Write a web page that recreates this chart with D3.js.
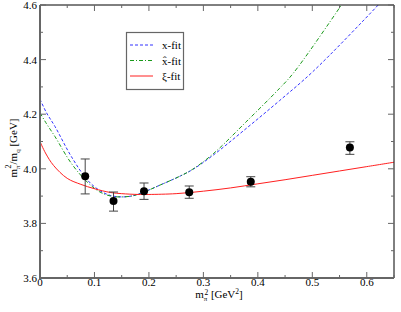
<!DOCTYPE html>
<html>
<head>
<meta charset="utf-8">
<script src="https://cdn.jsdelivr.net/npm/d3@7"></script>
<style>
  body { margin: 0; background: #fff; }
  text { font-family: "Liberation Serif", "DejaVu Serif", serif; }
</style>
</head>
<body>
<div id="container"></div>
<script>
// lattice points with errors
let mpi2   = [0.083, 0.135, 0.191, 0.274, 0.387, 0.569];
let ratio  = [3.973, 3.882, 3.918, 3.914, 3.953, 4.078];
let errLo  = [3.908, 3.845, 3.888, 3.892, 3.934, 4.053];
let errHi  = [4.036, 3.915, 3.948, 3.937, 3.971, 4.099];

// fit curves
let xfitX  = [0, 0.012, 0.0275, 0.0575, 0.0875, 0.11, 0.13, 0.15, 0.17, 0.19, 0.22, 0.257, 0.28, 0.318, 0.38, 0.44, 0.501, 0.621, 0.66];
let xfitY  = [4.255, 4.205, 4.155, 4.045, 3.958, 3.92, 3.902, 3.897, 3.901, 3.914, 3.94, 3.973, 3.997, 4.05, 4.15, 4.25, 4.356, 4.6, 4.685];
let xhatX  = [0, 0.012, 0.0275, 0.0575, 0.0875, 0.11, 0.13, 0.15, 0.17, 0.19, 0.22, 0.257, 0.28, 0.318, 0.38, 0.44, 0.465, 0.5535, 0.58];
let xhatY  = [4.205, 4.165, 4.118, 4.02, 3.95, 3.915, 3.9, 3.897, 3.901, 3.914, 3.94, 3.973, 3.998, 4.055, 4.175, 4.295, 4.35, 4.6, 4.68];
let xifitX = [0, 0.01, 0.025, 0.05, 0.075, 0.1, 0.13, 0.15, 0.18, 0.2, 0.25, 0.3, 0.35, 0.4, 0.45, 0.5, 0.55, 0.6, 0.65];
let xifitY = [4.10, 4.058, 4.012, 3.965, 3.943, 3.927, 3.913, 3.909, 3.906, 3.906, 3.909, 3.918, 3.93, 3.945, 3.96, 3.976, 3.992, 4.008, 4.024];

let legendNames = ["x-fit", "x\u0302-fit", "\u03BE-fit"];
let xTicks = [0, 0.1, 0.2, 0.3, 0.4, 0.5, 0.6];
let yTicks = [3.6, 3.8, 4.0, 4.2, 4.4, 4.6];

let W = 401, H = 312;
let pLeft = 40, pRight = 394, pTop = 5, pBottom = 278;

let svg = d3.select("#container")
    .append("svg")
    .attr("width", W)
    .attr("height", H);

let x = d3.scaleLinear().domain([0, 0.65]).range([pLeft, pRight]);
let y = d3.scaleLinear().domain([3.6, 4.6]).range([pBottom, pTop]);

svg.append("defs").append("clipPath").attr("id", "clip")
    .append("rect")
    .attr("x", pLeft).attr("y", pTop)
    .attr("width", pRight - pLeft).attr("height", pBottom - pTop);

// curves
let line = d3.line().x(d => x(d[0])).y(d => y(d[1])).curve(d3.curveCatmullRom);
let curves = [
    {xs: xfitX, ys: xfitY, color: "#3333ff", dash: "3,2"},
    {xs: xhatX, ys: xhatY, color: "#1a9a1a", dash: "4,2,1,2"},
    {xs: xifitX, ys: xifitY, color: "#ff2020", dash: null}
];
svg.append("g")
    .attr("clip-path", "url(#clip)")
    .selectAll("path")
    .data(curves)
    .enter()
    .append("path")
    .attr("fill", "none")
    .attr("stroke", d => d.color)
    .attr("stroke-width", 1)
    .attr("stroke-dasharray", d => d.dash)
    .attr("d", d => line(d.xs.map((v, i) => [v, d.ys[i]])));

// error bars + points
let pts = mpi2.map((v, i) => ({x: v, y: ratio[i], lo: errLo[i], hi: errHi[i]}));
let eb = svg.append("g").attr("stroke", "#444").attr("stroke-width", 1);
pts.forEach(p => {
    eb.append("line").attr("x1", x(p.x)).attr("x2", x(p.x)).attr("y1", y(p.lo)).attr("y2", y(p.hi));
    eb.append("line").attr("x1", x(p.x) - 4.5).attr("x2", x(p.x) + 4.5).attr("y1", y(p.lo)).attr("y2", y(p.lo));
    eb.append("line").attr("x1", x(p.x) - 4.5).attr("x2", x(p.x) + 4.5).attr("y1", y(p.hi)).attr("y2", y(p.hi));
});
svg.append("g")
    .selectAll("circle")
    .data(pts)
    .enter()
    .append("circle")
    .attr("cx", d => x(d.x))
    .attr("cy", d => y(d.y))
    .attr("r", 4)
    .attr("fill", "#000");

// frame
svg.append("line").attr("x1", pLeft).attr("x2", pRight).attr("y1", pTop).attr("y2", pTop).attr("stroke", "#000");
svg.append("line").attr("x1", pRight).attr("x2", pRight).attr("y1", pTop).attr("y2", pBottom).attr("stroke", "#000");
svg.append("line").attr("x1", pLeft).attr("x2", pLeft).attr("y1", pTop).attr("y2", pBottom + 0.5).attr("stroke", "#666").attr("stroke-width", 2);
svg.append("line").attr("x1", pLeft - 1).attr("x2", pRight).attr("y1", pBottom).attr("y2", pBottom).attr("stroke", "#666").attr("stroke-width", 2);

// inward ticks on all four sides
let xMinor = d3.range(0, 0.651, 0.05);
let yMinor = d3.range(3.6, 4.601, 0.1);
let tk = svg.append("g").attr("stroke", "#666").attr("stroke-width", 1);
xMinor.forEach((v, i) => {
    let len = i % 2 === 0 ? 6 : 3;
    tk.append("line").attr("x1", x(v)).attr("x2", x(v)).attr("y1", pBottom).attr("y2", pBottom - len);
    tk.append("line").attr("x1", x(v)).attr("x2", x(v)).attr("y1", pTop).attr("y2", pTop + len);
});
yMinor.forEach((v, i) => {
    let len = i % 2 === 0 ? 6 : 3;
    tk.append("line").attr("x1", pLeft).attr("x2", pLeft + len).attr("y1", y(v)).attr("y2", y(v));
    tk.append("line").attr("x1", pRight).attr("x2", pRight - len).attr("y1", y(v)).attr("y2", y(v));
});

svg.append("g")
    .selectAll("text")
    .data(xTicks)
    .enter()
    .append("text")
    .attr("x", d => x(d))
    .attr("y", pBottom + 8)
    .attr("text-anchor", "middle")
    .attr("style", "font-size:11px")
    .text(d => d3.format(".1~f")(d));

svg.append("g")
    .selectAll("text")
    .data(yTicks)
    .enter()
    .append("text")
    .attr("x", pLeft - 3)
    .attr("y", d => y(d) + 4)
    .attr("text-anchor", "end")
    .attr("style", "font-size:11px")
    .text(d => d3.format(".1f")(d));

// axis titles
let xt = svg.append("text")
    .attr("x", 219)
    .attr("y", 298)
    .attr("text-anchor", "middle")
    .attr("style", "font-size:11px");
xt.append("tspan").text("m");
xt.append("tspan").attr("style", "font-size:7px").attr("dy", 3).text("\u03C0");
xt.append("tspan").attr("style", "font-size:7.5px").attr("dx", -3).attr("dy", -6.5).text("2");
xt.append("tspan").attr("dy", 3.5).text(" [GeV");
xt.append("tspan").attr("style", "font-size:7.5px").attr("dy", -4.5).text("2");
xt.append("tspan").attr("dy", 4.5).text("]");

let yt = svg.append("text")
    .attr("transform", "translate(17,148) rotate(-90)")
    .attr("text-anchor", "middle")
    .attr("style", "font-size:11px");
yt.append("tspan").text("m");
yt.append("tspan").attr("style", "font-size:7px").attr("dy", 3).text("\u03C0");
yt.append("tspan").attr("style", "font-size:8px").attr("dx", -3).attr("dy", -9).text("2");
yt.append("tspan").attr("dy", 6).text("/m");
yt.append("tspan").attr("style", "font-size:7px").attr("dy", 3).text("q");
yt.append("tspan").attr("dy", -3).text(" [GeV]");

// legend
let lg = svg.append("g");
lg.append("rect")
    .attr("x", 126.5).attr("y", 32.5)
    .attr("width", 57).attr("height", 57)
    .attr("fill", "#fff")
    .attr("stroke", "#666")
    .attr("stroke-width", 1.2);
let rows = lg.selectAll("g")
    .data(curves)
    .enter()
    .append("g")
    .attr("transform", (_, i) => "translate(0," + (45 + i * 15.5) + ")");
rows.append("line")
    .attr("x1", 130).attr("x2", 153)
    .attr("stroke", d => d.color)
    .attr("stroke-dasharray", d => d.dash);
rows.append("text")
    .attr("x", 162)
    .attr("y", 4)
    .attr("style", "font-size:11px")
    .text((_, i) => legendNames[i]);
</script>
</body>
</html>
